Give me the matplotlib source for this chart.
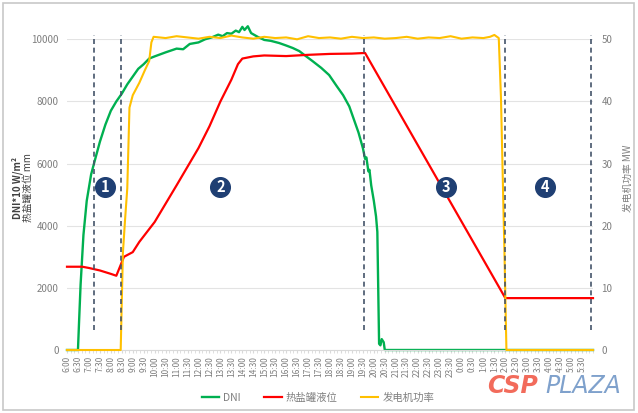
import matplotlib.pyplot as plt
from matplotlib.patches import Rectangle

plt.rcParams['font.family'] = ['Noto Sans CJK SC', 'DejaVu Sans']

# 时间用小时表示：6 = 6:00，30 = 次日 6:00
dni_t = [6.0, 6.5, 6.55, 6.62, 6.75, 6.9, 7.1, 7.25, 7.5, 7.75, 8.0, 8.25, 8.5, 8.75,
         9.0, 9.25, 9.5, 9.75, 10.0, 10.5, 11.0, 11.3, 11.6, 12.0, 12.3, 12.6, 12.9,
         13.1, 13.3, 13.5, 13.7, 13.85, 14.0, 14.1, 14.25, 14.4, 14.7, 15.0, 15.3,
         15.68, 16.0, 16.3, 16.6, 16.82, 17.2, 17.6, 17.96, 18.3, 18.6, 18.88, 19.1,
         19.3, 19.5, 19.6, 19.66, 19.75, 19.8, 19.88, 20.0, 20.1, 20.16, 20.2, 20.24,
         20.3, 20.36, 20.45, 20.5, 30.0]
dni_v = [0, 0, 900, 2100, 3700, 4800, 5650, 6050, 6700, 7250, 7700, 8000, 8250, 8550,
         8800, 9050, 9200, 9380, 9450, 9580, 9700, 9680, 9850, 9900, 10000, 10060, 10150,
         10100, 10200, 10180, 10280, 10230, 10400, 10300, 10420, 10200, 10080, 9980, 9950,
         9880, 9800, 9720, 9620, 9500, 9300, 9080, 8850, 8500, 8200, 7840, 7400,
         7000, 6500, 6150, 6200, 5750, 5800, 5300, 4800, 4300, 3800, 2000, 200,
         150, 350, 250, 0, 0]

level_t = [6.0, 6.7, 7.0, 7.5, 8.0, 8.25, 8.6, 9.0, 9.3, 10.0, 11.0, 12.0, 12.5, 13.0,
           13.5, 13.8, 14.0, 14.5, 15.0, 16.0, 17.0, 18.0, 19.0, 19.6, 26.0, 30.0]
level_v = [2680, 2680, 2640, 2560, 2450, 2390, 3000, 3150, 3480, 4120, 5300, 6500, 7200, 8000,
           8700, 9200, 9380, 9450, 9480, 9460, 9500, 9530, 9540, 9560, 1670, 1670]

power_t = [6.0, 8.45, 8.55, 8.65, 8.75, 8.85, 9.0, 9.3, 9.55, 9.75, 9.85, 9.95,
           10.5, 11.0, 11.5, 12.0, 12.5, 13.0, 13.5, 14.0, 14.5, 15.0, 15.5, 16.0,
           16.5, 17.0, 17.5, 18.0, 18.5, 19.0, 19.5, 20.0, 20.5, 21.0, 21.5, 22.0,
           22.5, 23.0, 23.5, 24.0, 24.5, 25.0, 25.3, 25.5, 25.7, 25.8, 25.97, 26.05, 30.0]
power_v = [0, 0, 15.6, 21, 26, 39, 41, 43, 45, 46.5, 49.5, 50.4,
           50.2, 50.5, 50.3, 50.1, 50.4, 50.2, 50.6, 50.3, 50.1, 50.4, 50.2, 50.3,
           50.0, 50.5, 50.2, 50.3, 50.1, 50.4, 50.2, 50.3, 50.1, 50.2, 50.4, 50.1,
           50.3, 50.2, 50.5, 50.1, 50.3, 50.2, 50.4, 50.7, 50.2, 40.7, 14, 0, 0]

tick_hours = [6 + 0.5 * i for i in range(48)]
tick_labels = [f"{int(h) % 24}:{'30' if h % 1 else '00'}" for h in tick_hours]

phase_t = [7.25, 8.45, 19.55, 26.0, 29.9]
phase_names = ['1', '2', '3', '4']
phase_name_t = [7.75, 13.0, 23.3, 27.8]

green = '#00B050'
red = '#FF0000'
yellow = '#FFC000'
navy = '#1F3F73'
gray = '#7F7F7F'

fig = plt.figure(figsize=(6.38, 4.13), dpi=100)
fig.patches.append(Rectangle((0.004, 0.008), 0.99, 0.985, transform=fig.transFigure,
                             fill=False, ec='#C8C8C8', lw=1.2))

ax = fig.add_axes([67 / 638, 1 - 350 / 413, (593 - 67) / 638, (350 - 39.3) / 413])
ax2 = ax.twinx()

l1, = ax.plot(dni_t, dni_v, color=green, lw=1.7, label='DNI', clip_on=False)
l2, = ax.plot(level_t, level_v, color=red, lw=1.6, label='热盐罐液位', clip_on=False)
l3, = ax2.plot(power_t, power_v, color=yellow, lw=1.5, label='发电机功率', clip_on=False)

ax.set_xlim(6, 30)
ax.set_ylim(0, 10000)
ax2.set_ylim(0, 50)
ax.set_yticks(range(0, 10001, 2000))
ax2.set_yticks(range(0, 51, 10))
ax.set_xticks(tick_hours)
ax.set_xticklabels(tick_labels, rotation=90, fontsize=6, color=gray)
ax.set_xticks([6 + i / 6 for i in range(145)], minor=True)
ax.grid(axis='y', color='#E3E3E3', lw=0.8)
ax.set_axisbelow(True)

for a in (ax, ax2):
    for s in a.spines.values():
        s.set_visible(False)
    a.tick_params(axis='y', length=0, labelsize=7, labelcolor=gray, pad=6)
ax.spines['bottom'].set_visible(True)
ax.spines['bottom'].set_color('#D9D9D9')
ax.tick_params(axis='x', which='both', length=2.5, color='#D9D9D9', pad=2)

for t in phase_t:
    ax2.axvline(t, ymin=0.065, ymax=1.015, color='#44546A', lw=1.2,
                ls=(0, (3, 2.2)), clip_on=False)

for t, name in zip(phase_name_t, phase_names):
    ax2.scatter([t], [26.25], s=200, color=navy, zorder=5)
    ax2.text(t, 26.25, name, color='white', fontsize=10.5, fontweight='bold',
             ha='center', va='center', zorder=6)

fig.text(17 / 638, 1 - 188 / 413, 'DNI*10 W/m²', rotation=90, ha='center', va='center',
         fontsize=7, fontweight='bold', color='#404040')
fig.text(28 / 638, 1 - 188 / 413, '热盐罐液位 mm', rotation=90, ha='center', va='center',
         fontsize=7, color='#404040')
fig.text(628 / 638, 1 - 178 / 413, '发电机功率 MW', rotation=90, ha='center', va='center',
         fontsize=7, color='#7F7F7F')

fig.legend(handles=[l1, l2, l3], loc='center', bbox_to_anchor=(318 / 638, 1 - 398 / 413),
           ncol=3, frameon=False, fontsize=7.5, handlelength=1.7, columnspacing=2.2,
           handletextpad=0.4, labelcolor=gray)

fig.text(487 / 638, 1 - 386 / 413, 'CSP', fontsize=17, fontweight='bold', style='italic',
         color='#F26B5B', va='center', ha='left', family='DejaVu Sans')
fig.text(545 / 638, 1 - 386 / 413, 'PLAZA', fontsize=17, style='italic',
         color='#7FA1CC', va='center', ha='left', family='DejaVu Sans')

fig.savefig('out.png', dpi=100)
